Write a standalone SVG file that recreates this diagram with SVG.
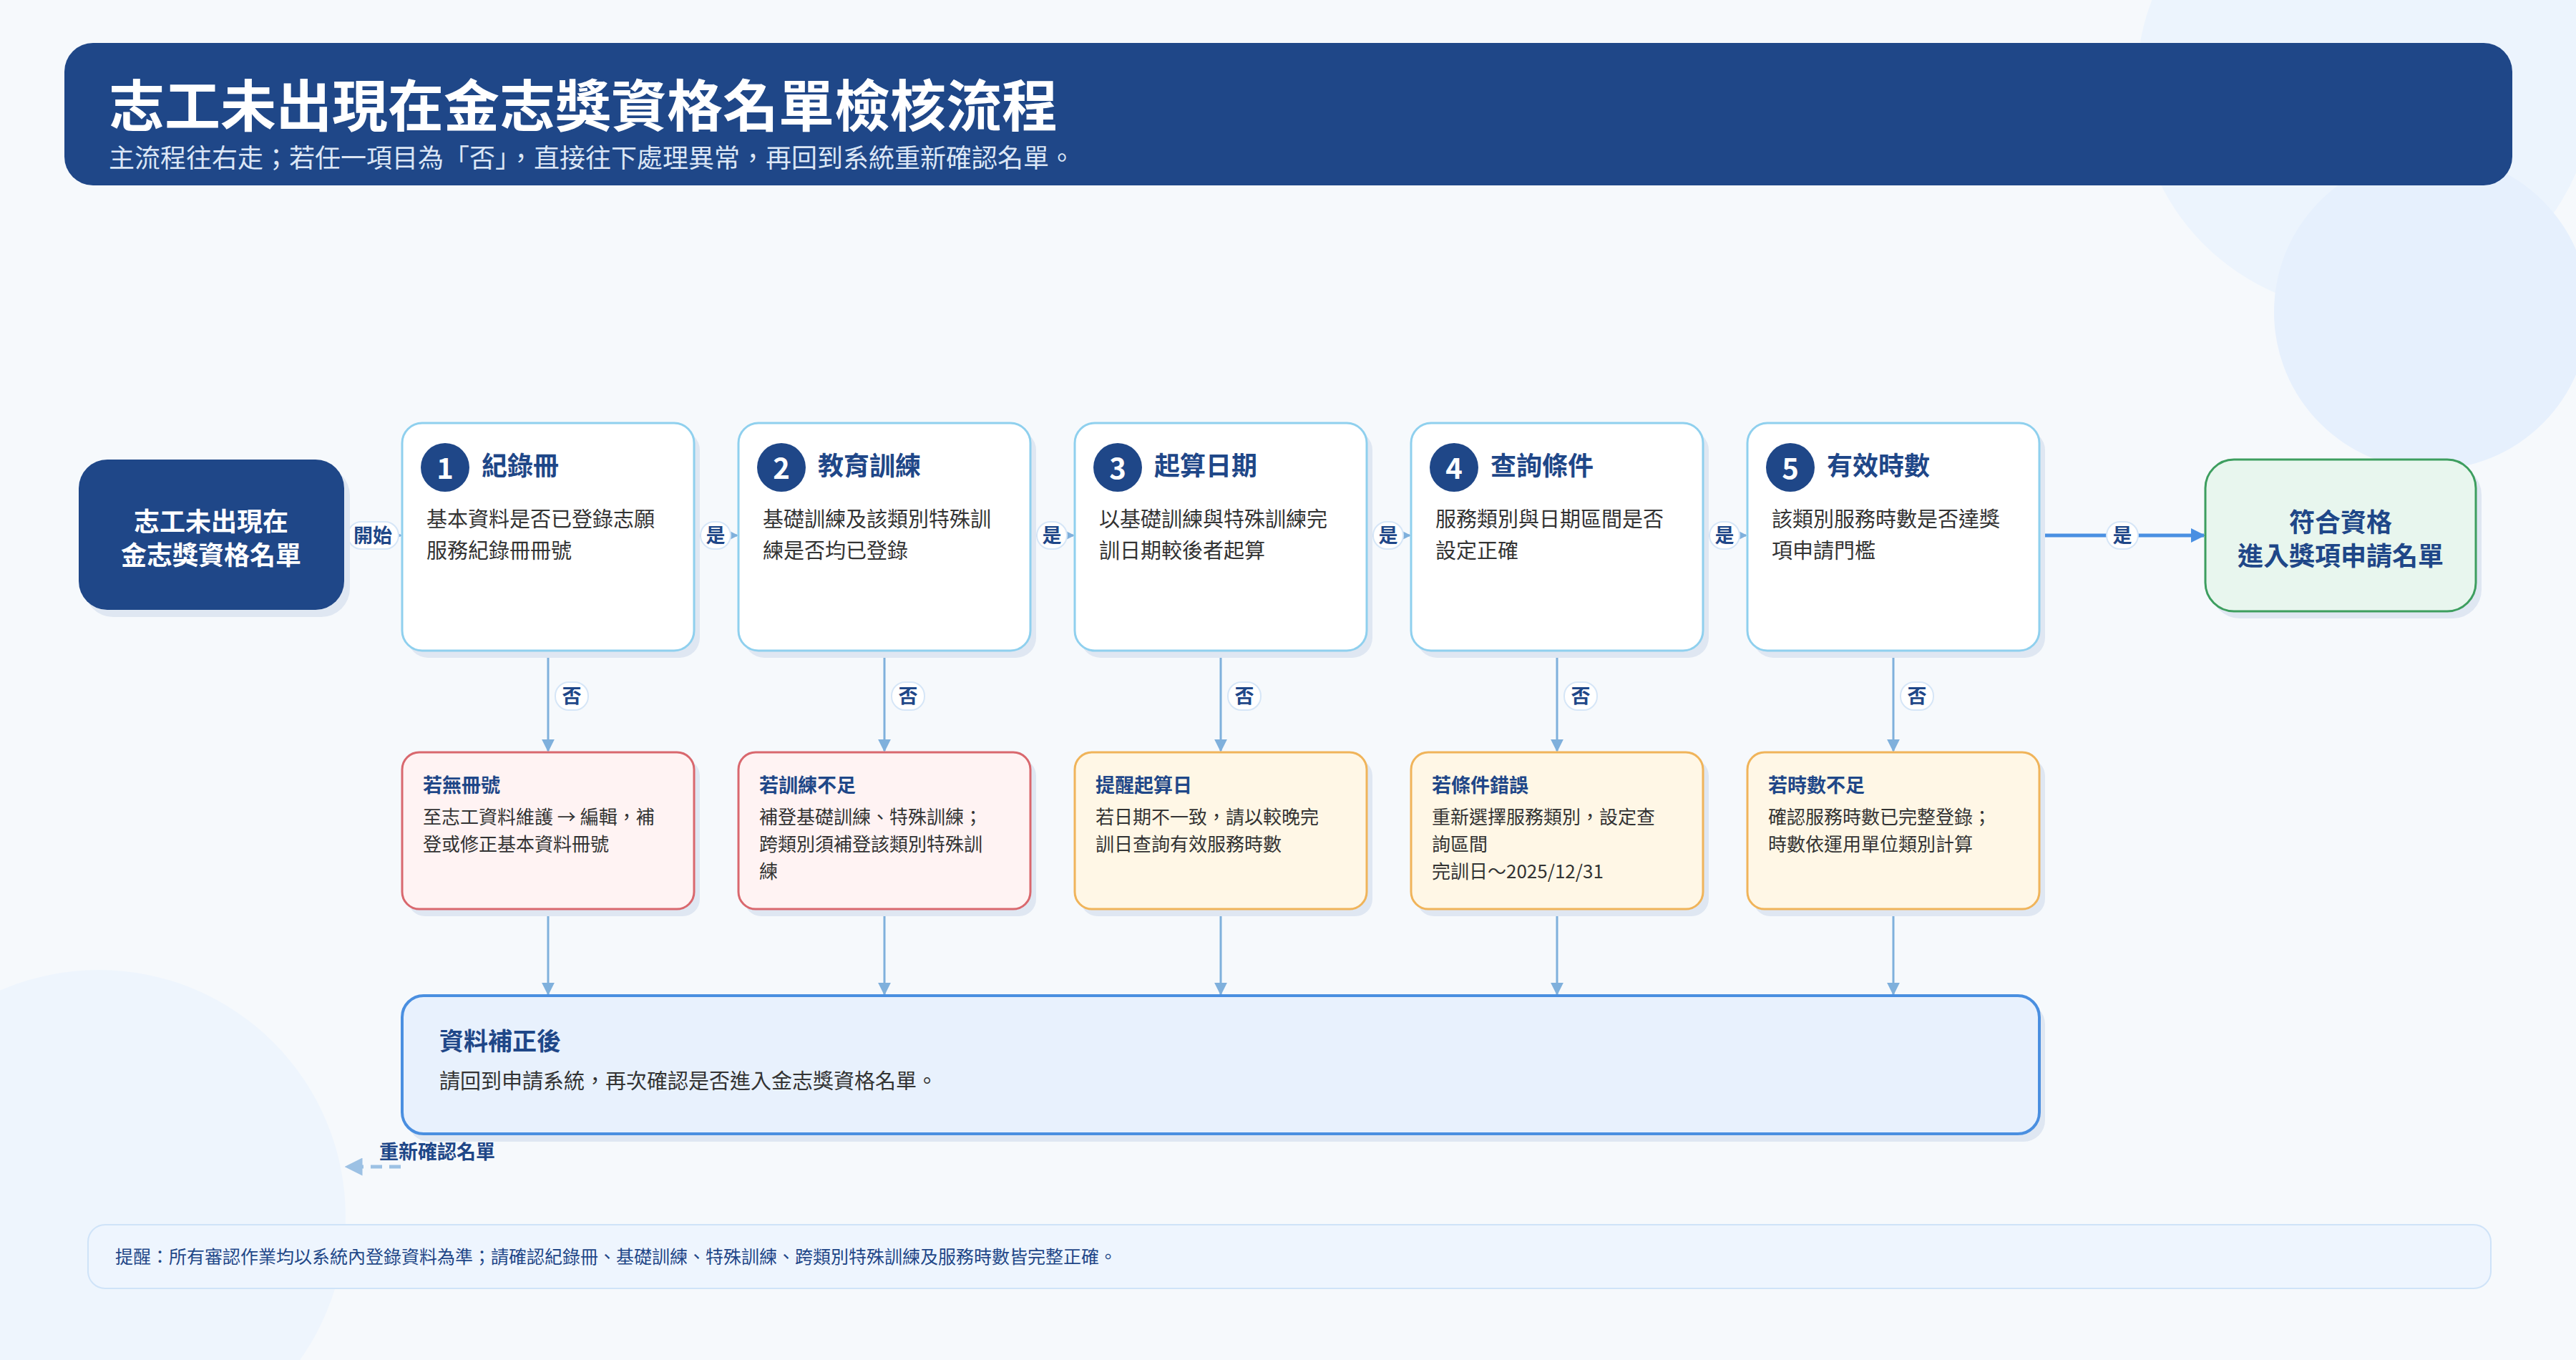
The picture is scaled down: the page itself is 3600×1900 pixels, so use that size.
<svg xmlns="http://www.w3.org/2000/svg" width="3600" height="1900" viewBox="0 0 3600 1900">
<defs>
<style>
text{font-family:"Noto Sans CJK TC","Noto Sans CJK SC",sans-serif}
.step{fill:#fff;stroke:#8fd0ee;stroke-width:3}
.sh{fill:#dfe7f2}
.badge{fill:#1f4788}
.num{fill:#fff;font-size:40px;font-weight:700;text-anchor:middle}
.st{fill:#1f4788;font-size:36px;font-weight:700}
.d{fill:#333;font-size:29px}
.red{fill:#fff3f3;stroke:#d9686e;stroke-width:3}
.org{fill:#fff7e6;stroke:#f0b45a;stroke-width:3}
.lt{fill:#1f4788;font-size:27px;font-weight:700}
.ld{fill:#333;font-size:26px}
.pill{fill:#fff;stroke:#d6e6f7;stroke-width:2}
.pl{fill:#1f4788;font-size:27px;font-weight:700;text-anchor:middle}
.ln{stroke:#7fb0dc;stroke-width:3;fill:none}
</style>
<marker id="ah" viewBox="0 0 10 10" refX="9" refY="5" markerWidth="6" markerHeight="6" orient="auto"><path d="M0,0L10,5L0,10z" fill="#7fb0dc"/></marker>
<marker id="ah2" viewBox="0 0 10 10" refX="9" refY="5" markerWidth="4" markerHeight="4" orient="auto"><path d="M0,0L10,5L0,10z" fill="#4a90e2"/></marker>
<marker id="ah3" viewBox="0 0 10 10" refX="9" refY="5" markerWidth="5" markerHeight="5" orient="auto"><path d="M0,0L10,5L0,10z" fill="#9cc1e4"/></marker>
</defs>
<rect width="3600" height="1900" fill="#f6f9fc"/>
<circle cx="3306" cy="115" r="320" fill="#ecf4fd"/>
<circle cx="3398" cy="436" r="220" fill="#e6f0fd"/>
<circle cx="138" cy="1700" r="345" fill="#eef5fd"/>
<g id="header">
<rect x="90" y="60" width="3421" height="199" rx="40" fill="#1f4788"/>
<text x="152" y="177" font-size="78" font-weight="700" fill="#fff">志工未出現在金志獎資格名單檢核流程</text>
<text x="152" y="234" font-size="36" fill="#dbe6f5">主流程往右走；若任一項目為「否」，直接往下處理異常，再回到系統重新確認名單。</text>
</g>
<g id="connectors">
<line class="ln" x1="481" y1="748" x2="560" y2="748" marker-end="url(#ah)"/>
<line class="ln" x1="969" y1="748" x2="1030" y2="748" marker-end="url(#ah)"/>
<line class="ln" x1="1439" y1="748" x2="1500" y2="748" marker-end="url(#ah)"/>
<line class="ln" x1="1909" y1="748" x2="1970" y2="748" marker-end="url(#ah)"/>
<line class="ln" x1="2379" y1="748" x2="2440" y2="748" marker-end="url(#ah)"/>
<line x1="2850" y1="748" x2="3080" y2="748" stroke="#4a90e2" stroke-width="5" marker-end="url(#ah2)"/>
<g class="ln">
<line x1="766" y1="910" x2="766" y2="1049" marker-end="url(#ah)"/>
<line x1="1236" y1="910" x2="1236" y2="1049" marker-end="url(#ah)"/>
<line x1="1706" y1="910" x2="1706" y2="1049" marker-end="url(#ah)"/>
<line x1="2176" y1="910" x2="2176" y2="1049" marker-end="url(#ah)"/>
<line x1="2646" y1="910" x2="2646" y2="1049" marker-end="url(#ah)"/>
<line x1="766" y1="1270" x2="766" y2="1389" marker-end="url(#ah)"/>
<line x1="1236" y1="1270" x2="1236" y2="1389" marker-end="url(#ah)"/>
<line x1="1706" y1="1270" x2="1706" y2="1389" marker-end="url(#ah)"/>
<line x1="2176" y1="1270" x2="2176" y2="1389" marker-end="url(#ah)"/>
<line x1="2646" y1="1270" x2="2646" y2="1389" marker-end="url(#ah)"/>
</g>
<line x1="560" y1="1630" x2="484" y2="1630" stroke="#9cc1e4" stroke-width="5" stroke-dasharray="16,10" marker-end="url(#ah3)"/>
<text x="530" y="1619" class="lt" font-size="27">重新確認名單</text>
<rect class="pill" x="486" y="729" width="71" height="38" rx="19"/><text class="pl" x="521" y="758">開始</text>
<rect class="pill" x="979" y="729" width="42" height="38" rx="19"/><text class="pl" x="1000" y="758">是</text>
<rect class="pill" x="1449" y="729" width="42" height="38" rx="19"/><text class="pl" x="1470" y="758">是</text>
<rect class="pill" x="1919" y="729" width="42" height="38" rx="19"/><text class="pl" x="1940" y="758">是</text>
<rect class="pill" x="2389" y="729" width="42" height="38" rx="19"/><text class="pl" x="2410" y="758">是</text>
<rect class="pill" x="2944" y="729" width="44" height="38" rx="19"/><text class="pl" x="2966" y="758">是</text>
<rect class="pill" x="776" y="953" width="46" height="39" rx="19"/><text class="pl" x="799" y="982">否</text>
<rect class="pill" x="1246" y="953" width="46" height="39" rx="19"/><text class="pl" x="1269" y="982">否</text>
<rect class="pill" x="1716" y="953" width="46" height="39" rx="19"/><text class="pl" x="1739" y="982">否</text>
<rect class="pill" x="2186" y="953" width="46" height="39" rx="19"/><text class="pl" x="2209" y="982">否</text>
<rect class="pill" x="2656" y="953" width="46" height="39" rx="19"/><text class="pl" x="2679" y="982">否</text>
</g>
<g id="start">
<rect class="sh" x="118" y="652" width="371" height="210" rx="40"/>
<rect x="110" y="642" width="371" height="210" rx="40" fill="#1f4788"/>
<text x="295" y="742" font-size="36" font-weight="700" fill="#fff" text-anchor="middle">志工未出現在</text>
<text x="295" y="789" font-size="36" font-weight="700" fill="#fff" text-anchor="middle">金志獎資格名單</text>
</g>
<g id="step1">
<rect class="sh" x="570" y="601" width="408" height="318" rx="28"/>
<rect class="step" x="562" y="591" width="408" height="318" rx="28"/>
<circle class="badge" cx="622" cy="653" r="34"/><text class="num" x="622" y="669">1</text>
<text class="st" x="673" y="664">紀錄冊</text>
<text class="d" x="596" y="736">基本資料是否已登錄志願</text>
<text class="d" x="596" y="780">服務紀錄冊冊號</text>
</g>
<g id="step2">
<rect class="sh" x="1040" y="601" width="408" height="318" rx="28"/>
<rect class="step" x="1032" y="591" width="408" height="318" rx="28"/>
<circle class="badge" cx="1092" cy="653" r="34"/><text class="num" x="1092" y="669">2</text>
<text class="st" x="1143" y="664">教育訓練</text>
<text class="d" x="1066" y="736">基礎訓練及該類別特殊訓</text>
<text class="d" x="1066" y="780">練是否均已登錄</text>
</g>
<g id="step3">
<rect class="sh" x="1510" y="601" width="408" height="318" rx="28"/>
<rect class="step" x="1502" y="591" width="408" height="318" rx="28"/>
<circle class="badge" cx="1562" cy="653" r="34"/><text class="num" x="1562" y="669">3</text>
<text class="st" x="1613" y="664">起算日期</text>
<text class="d" x="1536" y="736">以基礎訓練與特殊訓練完</text>
<text class="d" x="1536" y="780">訓日期較後者起算</text>
</g>
<g id="step4">
<rect class="sh" x="1980" y="601" width="408" height="318" rx="28"/>
<rect class="step" x="1972" y="591" width="408" height="318" rx="28"/>
<circle class="badge" cx="2032" cy="653" r="34"/><text class="num" x="2032" y="669">4</text>
<text class="st" x="2083" y="664">查詢條件</text>
<text class="d" x="2006" y="736">服務類別與日期區間是否</text>
<text class="d" x="2006" y="780">設定正確</text>
</g>
<g id="step5">
<rect class="sh" x="2450" y="601" width="408" height="318" rx="28"/>
<rect class="step" x="2442" y="591" width="408" height="318" rx="28"/>
<circle class="badge" cx="2502" cy="653" r="34"/><text class="num" x="2502" y="669">5</text>
<text class="st" x="2553" y="664">有效時數</text>
<text class="d" x="2476" y="736">該類別服務時數是否達獎</text>
<text class="d" x="2476" y="780">項申請門檻</text>
</g>
<g id="end">
<rect class="sh" x="3090" y="651" width="378" height="213" rx="40"/>
<rect x="3082" y="642" width="378" height="212" rx="40" fill="#e8f6ee" stroke="#3d9e5f" stroke-width="3"/>
<text x="3271" y="743" font-size="36" font-weight="700" fill="#1f4788" text-anchor="middle">符合資格</text>
<text x="3271" y="790" font-size="36" font-weight="700" fill="#1f4788" text-anchor="middle">進入獎項申請名單</text>
</g>
<g id="fix1">
<rect class="sh" x="570" y="1060" width="408" height="220" rx="24"/>
<rect class="red" x="562" y="1051" width="408" height="219" rx="24"/>
<text class="lt" x="591" y="1107">若無冊號</text>
<text class="ld" x="591" y="1151">至志工資料維護 → 編輯，補</text>
<text class="ld" x="591" y="1189">登或修正基本資料冊號</text>
</g>
<g id="fix2">
<rect class="sh" x="1040" y="1060" width="408" height="220" rx="24"/>
<rect class="red" x="1032" y="1051" width="408" height="219" rx="24"/>
<text class="lt" x="1061" y="1107">若訓練不足</text>
<text class="ld" x="1061" y="1151">補登基礎訓練、特殊訓練；</text>
<text class="ld" x="1061" y="1189">跨類別須補登該類別特殊訓</text>
<text class="ld" x="1061" y="1227">練</text>
</g>
<g id="fix3">
<rect class="sh" x="1510" y="1060" width="408" height="220" rx="24"/>
<rect class="org" x="1502" y="1051" width="408" height="219" rx="24"/>
<text class="lt" x="1531" y="1107">提醒起算日</text>
<text class="ld" x="1531" y="1151">若日期不一致，請以較晚完</text>
<text class="ld" x="1531" y="1189">訓日查詢有效服務時數</text>
</g>
<g id="fix4">
<rect class="sh" x="1980" y="1060" width="408" height="220" rx="24"/>
<rect class="org" x="1972" y="1051" width="408" height="219" rx="24"/>
<text class="lt" x="2001" y="1107">若條件錯誤</text>
<text class="ld" x="2001" y="1151">重新選擇服務類別，設定查</text>
<text class="ld" x="2001" y="1189">詢區間</text>
<text class="ld" x="2001" y="1227">完訓日～2025/12/31</text>
</g>
<g id="fix5">
<rect class="sh" x="2450" y="1060" width="408" height="220" rx="24"/>
<rect class="org" x="2442" y="1051" width="408" height="219" rx="24"/>
<text class="lt" x="2471" y="1107">若時數不足</text>
<text class="ld" x="2471" y="1151">確認服務時數已完整登錄；</text>
<text class="ld" x="2471" y="1189">時數依運用單位類別計算</text>
</g>
<g id="after">
<rect class="sh" x="570" y="1401" width="2288" height="194" rx="30"/>
<rect x="562" y="1391" width="2288" height="193" rx="30" fill="#e8f1fd" stroke="#4a8fe0" stroke-width="4"/>
<text x="614" y="1467" font-size="34" font-weight="700" fill="#1f4788">資料補正後</text>
<text x="614" y="1521" class="d">請回到申請系統，再次確認是否進入金志獎資格名單。</text>
</g>
<g id="footer">
<rect x="123" y="1711" width="3358" height="89" rx="24" fill="#eef5fe" stroke="#cfe3f8" stroke-width="2"/>
<text x="161" y="1765" font-size="25" fill="#1f4788">提醒：所有審認作業均以系統內登錄資料為準；請確認紀錄冊、基礎訓練、特殊訓練、跨類別特殊訓練及服務時數皆完整正確。</text>
</g>
</svg>
